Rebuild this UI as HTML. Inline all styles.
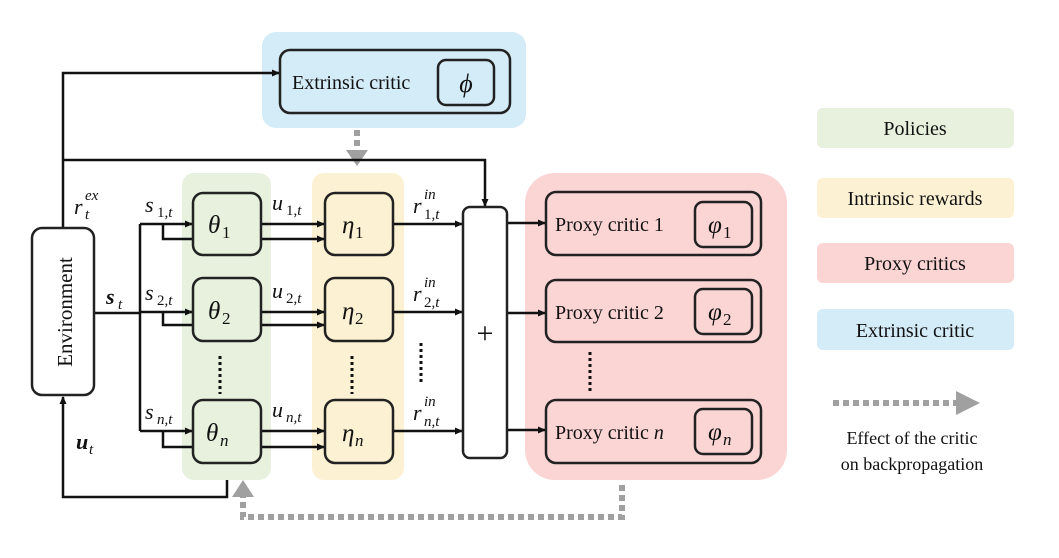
<!DOCTYPE html>
<html><head><meta charset="utf-8"><style>
body{margin:0;background:#fff}
svg{display:block}
text{font-family:"Liberation Serif",serif;fill:#111}
.m{font-style:italic}
.n{font-style:normal}
</style></head><body>
<svg width="1059" height="558" viewBox="0 0 1059 558" xmlns="http://www.w3.org/2000/svg">
<defs>
<marker id="a" markerWidth="8" markerHeight="8" refX="7" refY="4" orient="auto" markerUnits="userSpaceOnUse"><path d="M0,0.5 L8,4 L0,7.5z" fill="#111"/></marker>
</defs>
<rect x="262" y="32" width="264" height="96" rx="14" fill="#d4ebf8"/>
<rect x="182" y="173" width="89" height="307" rx="12" fill="#e7f1de"/>
<rect x="312" y="173" width="92" height="307" rx="12" fill="#fdf1d3"/>
<rect x="525" y="173" width="262" height="307" rx="30" fill="#fbd4d4"/>
<rect x="817" y="108" width="197" height="40" rx="6" fill="#e7f1de"/>
<rect x="817" y="178" width="197" height="40" rx="6" fill="#fdf1d3"/>
<rect x="817" y="243" width="197" height="40" rx="6" fill="#fbd4d4"/>
<rect x="817" y="309" width="197" height="41" rx="6" fill="#d4ebf8"/>
<g font-size="20" text-anchor="middle">
<text x="915" y="135">Policies</text>
<text x="915" y="205">Intrinsic rewards</text>
<text x="915" y="270">Proxy critics</text>
<text x="915" y="337">Extrinsic critic</text>
</g>
<g font-size="18" text-anchor="middle">
<text x="912" y="444">Effect of the critic</text>
<text x="912" y="470">on backpropagation</text>
</g>
<g stroke="#a0a0a0" stroke-width="6" fill="none" stroke-dasharray="6,4">
<line x1="833" y1="403" x2="958" y2="403"/>
<line x1="357" y1="130" x2="357" y2="152"/>
<polyline points="622,485 622,517 243,517 243,496"/>
</g>
<g fill="#a0a0a0">
<path d="M956,391 L980,403 L956,415z"/>
<path d="M346,150 L368,150 L357,166z"/>
<path d="M232,497 L254,497 L243,480z"/>
</g>
<g stroke="#111" stroke-width="2.5" fill="none">
<polyline points="63,228 63,73 279,73" marker-end="url(#a)"/>
<polyline points="63,160 485,160 485,206" marker-end="url(#a)"/>
<polyline points="227,480 227,497 63,497 63,397" marker-end="url(#a)"/>
<line x1="94" y1="313" x2="140" y2="313"/>
<line x1="140" y1="224" x2="140" y2="431"/>
<line x1="140" y1="224" x2="192" y2="224" marker-end="url(#a)"/>
<line x1="140" y1="312" x2="192" y2="312" marker-end="url(#a)"/>
<line x1="140" y1="431" x2="192" y2="431" marker-end="url(#a)"/>
<polyline points="163,224 163,239 192,239"/>
<polyline points="163,312 163,325 192,325"/>
<polyline points="163,431 163,447 192,447"/>
<line x1="261" y1="224" x2="324" y2="224" marker-end="url(#a)"/>
<line x1="261" y1="239" x2="324" y2="239" marker-end="url(#a)"/>
<line x1="261" y1="312" x2="324" y2="312" marker-end="url(#a)"/>
<line x1="261" y1="325" x2="324" y2="325" marker-end="url(#a)"/>
<line x1="261" y1="431" x2="324" y2="431" marker-end="url(#a)"/>
<line x1="261" y1="447" x2="324" y2="447" marker-end="url(#a)"/>
<line x1="393" y1="224" x2="462" y2="224" marker-end="url(#a)"/>
<line x1="393" y1="312" x2="462" y2="312" marker-end="url(#a)"/>
<line x1="393" y1="431" x2="462" y2="431" marker-end="url(#a)"/>
<line x1="507" y1="223" x2="545" y2="223" marker-end="url(#a)"/>
<line x1="507" y1="313" x2="545" y2="313" marker-end="url(#a)"/>
<line x1="507" y1="430" x2="545" y2="430" marker-end="url(#a)"/>
</g>
<g stroke="#111" stroke-width="3" stroke-dasharray="3,3">
<line x1="220" y1="356" x2="220" y2="394"/>
<line x1="352" y1="356" x2="352" y2="394"/>
<line x1="421" y1="343" x2="421" y2="385"/>
<line x1="590" y1="352" x2="590" y2="393"/>
</g>
<g stroke="#222" stroke-width="2.5">
<rect x="32" y="228" width="62" height="167" rx="10" fill="#fff"/>
<rect x="280" y="50" width="230" height="63" rx="10" fill="#d4ebf8"/>
<rect x="438" y="60" width="56" height="45" rx="8" fill="#d4ebf8"/>
<rect x="193" y="193" width="68" height="62" rx="10" fill="#e7f1de"/>
<rect x="193" y="278" width="68" height="63" rx="10" fill="#e7f1de"/>
<rect x="193" y="400" width="68" height="63" rx="10" fill="#e7f1de"/>
<rect x="325" y="193" width="68" height="62" rx="10" fill="#fdf1d3"/>
<rect x="325" y="278" width="68" height="63" rx="10" fill="#fdf1d3"/>
<rect x="325" y="400" width="68" height="63" rx="10" fill="#fdf1d3"/>
<rect x="463" y="207" width="44" height="251" rx="7" fill="#fff"/>
<rect x="546" y="192" width="215" height="63" rx="10" fill="#fbd4d4"/>
<rect x="546" y="280" width="215" height="62" rx="10" fill="#fbd4d4"/>
<rect x="546" y="400" width="215" height="63" rx="10" fill="#fbd4d4"/>
<rect x="695" y="202" width="57" height="45" rx="8" fill="#fbd4d4"/>
<rect x="695" y="289" width="57" height="45" rx="8" fill="#fbd4d4"/>
<rect x="695" y="409" width="57" height="45" rx="8" fill="#fbd4d4"/>
</g>
<text x="0" y="0" font-size="21" text-anchor="middle" transform="translate(72,312) rotate(-90)">Environment</text>
<text x="292" y="89" font-size="20">Extrinsic critic</text>
<text x="466" y="92" font-size="26" class="m" text-anchor="middle">ϕ</text>
<text x="485" y="343" font-size="30" text-anchor="middle">+</text>
<g font-size="20">
<text x="555" y="231">Proxy critic 1</text>
<text x="555" y="319">Proxy critic 2</text>
<text x="555" y="439">Proxy critic <tspan font-style="italic">n</tspan></text>
</g>
<g class="m" font-size="25">
<text x="708" y="233">φ</text><text x="708" y="320">φ</text><text x="708" y="440">φ</text>
<text x="208" y="233">θ</text><text x="208" y="319">θ</text><text x="206" y="441">θ</text>
<text x="342" y="233">η</text><text x="342" y="319">η</text><text x="342" y="441">η</text>
</g>
<g font-size="17">
<text x="723" y="238">1</text><text x="723" y="325">2</text><text x="723" y="445" class="m">n</text>
<text x="222" y="238">1</text><text x="222" y="324">2</text><text x="220" y="446" class="m">n</text>
<text x="355" y="238">1</text><text x="355" y="324">2</text><text x="355" y="446" class="m">n</text>
</g>
<g class="m" font-size="22">
<text x="74" y="214">r</text>
<text x="106" y="304" font-weight="bold">s</text>
<text x="76" y="449" font-weight="bold">u</text>
<text x="145" y="212">s</text><text x="145" y="300">s</text><text x="145" y="419">s</text>
<text x="272" y="210">u</text><text x="272" y="298">u</text><text x="272" y="417">u</text>
<text x="413" y="213">r</text><text x="413" y="301">r</text><text x="413" y="420">r</text>
</g>
<g class="m" font-size="15">
<text x="85" y="200">ex</text><text x="85" y="219">t</text>
<text x="118" y="309">t</text>
<text x="89" y="454">t</text>
<text x="157" y="217"><tspan class="n">1,</tspan>t</text>
<text x="157" y="305"><tspan class="n">2,</tspan>t</text>
<text x="157" y="424">n,t</text>
<text x="286" y="215"><tspan class="n">1,</tspan>t</text>
<text x="286" y="303"><tspan class="n">2,</tspan>t</text>
<text x="286" y="422">n,t</text>
<text x="424" y="199">in</text><text x="424" y="219"><tspan class="n">1,</tspan>t</text>
<text x="424" y="287">in</text><text x="424" y="307"><tspan class="n">2,</tspan>t</text>
<text x="424" y="406">in</text><text x="424" y="426">n,t</text>
</g>
</svg>
</body></html>
